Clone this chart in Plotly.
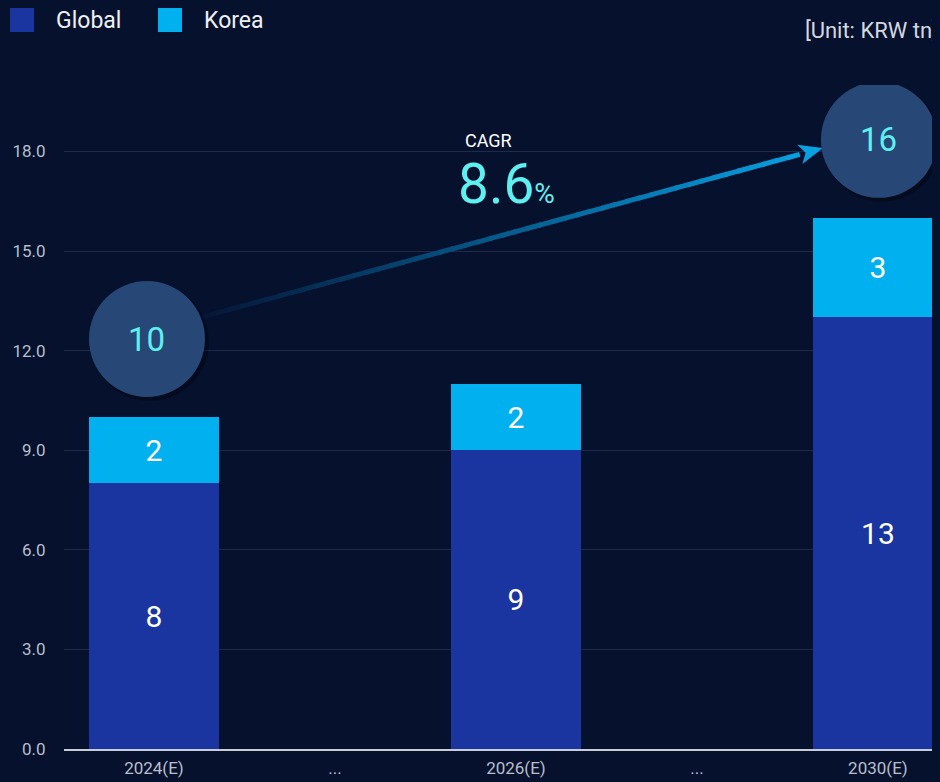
import plotly.graph_objects as go

# ---------------- data ----------------
categories = ["2024(E)", "...", "2026(E)", "...", "2030(E)"]
bar_positions = [0, 2, 4]
global_vals = [8, 9, 13]
korea_vals = [2, 2, 3]
totals = [g + k for g, k in zip(global_vals, korea_vals)]
cagr_text = "8.6"
y_ticks = [0, 3, 6, 9, 12, 15, 18]

# ---------------- style ----------------
BG = "#05112d"
C_GLOBAL = "#1a35a0"
C_KOREA = "#00b0ef"
C_CIRCLE = "#274877"
C_CYAN = "#5ef0f0"
FONT = "Roboto"

# page geometry (reference frame = browser window); body has an 8px margin
PAGE_W, PAGE_H, BODY = 940, 782, 8
W, H = PAGE_W - BODY, PAGE_H - BODY
PLOT_L, PLOT_R, PLOT_T, PLOT_B = 64, 940, 85, 749
XR = [-0.497, 4.343]
YR = [0, 20]


def x2px(x):
    return PLOT_L + (x - XR[0]) / (XR[1] - XR[0]) * (PLOT_R - PLOT_L)


def y2px(y):
    return PLOT_B - (y - YR[0]) / (YR[1] - YR[0]) * (PLOT_B - PLOT_T)


def px2x(px):
    return XR[0] + (px - PLOT_L) / (PLOT_R - PLOT_L) * (XR[1] - XR[0])


def py2y(py):
    return YR[0] + (PLOT_B - py) / (PLOT_B - PLOT_T) * (YR[1] - YR[0])


def ppx(px):
    return (px - PLOT_L) / (PLOT_R - PLOT_L)


def ppy(py):
    return (PLOT_B - py) / (PLOT_B - PLOT_T)


fig = go.Figure()
fig.add_trace(go.Bar(
    x=bar_positions, y=global_vals, name="Global", marker_color=C_GLOBAL,
    marker_line_width=0, width=0.72,
    text=[str(v) for v in global_vals], textposition="inside",
    insidetextanchor="middle", textfont=dict(color="white", size=30, family=FONT),
    constraintext="none", hoverinfo="skip"))
fig.add_trace(go.Bar(
    x=bar_positions, y=korea_vals, name="Korea", marker_color=C_KOREA,
    marker_line_width=0, width=0.72,
    text=[str(v) for v in korea_vals], textposition="inside",
    insidetextanchor="middle", textfont=dict(color="white", size=30, family=FONT),
    constraintext="none", hoverinfo="skip"))

shapes = []
annotations = []

# ---------------- CAGR arrow (gradient) ----------------
R = 58
OFF = 78
CIRCLE_DX = [-7, 1]
c1 = (x2px(bar_positions[0]) + CIRCLE_DX[0], y2px(totals[0]) - OFF)
c2 = (x2px(bar_positions[-1]) + CIRCLE_DX[1], y2px(totals[-1]) - OFF)
dx, dy = c2[0] - c1[0], c2[1] - c1[1]
L = (dx ** 2 + dy ** 2) ** 0.5
ux, uy = dx / L, dy / L
shift = -7
start = (c1[0] + R * ux, c1[1] + R * uy + shift)
tip = (c2[0] - R * ux, c2[1] - R * uy + shift)
head_len, head_w = 24, 10
base = (tip[0] - head_len * ux, tip[1] - head_len * uy)

N = 48
c_from = (6, 22, 55)
c_to = (8, 160, 225)
for i in range(N):
    t0, t1 = i / N, (i + 1) / N
    p0 = (start[0] + (base[0] - start[0]) * t0, start[1] + (base[1] - start[1]) * t0)
    te = min(t1 + 0.004, 1.0) if i < N - 1 else 1.0
    p1 = (start[0] + (base[0] - start[0]) * te, start[1] + (base[1] - start[1]) * te)
    tm = (t0 + t1) / 2
    col = tuple(int(a + (b - a) * tm) for a, b in zip(c_from, c_to))
    shapes.append(dict(type="line", xref="x", yref="y",
                       x0=px2x(p0[0]), y0=py2y(p0[1]), x1=px2x(p1[0]), y1=py2y(p1[1]),
                       line=dict(color="rgb(%d,%d,%d)" % col, width=5), layer="above"))
nx, ny = -uy, ux
notch = (base[0] + 6 * ux, base[1] + 6 * uy)
pts = [tip, (base[0] + head_w * nx, base[1] + head_w * ny), notch,
       (base[0] - head_w * nx, base[1] - head_w * ny)]
path = "M " + " L ".join("%f,%f" % (px2x(p[0]), py2y(p[1])) for p in pts) + " Z"
shapes.append(dict(type="path", xref="x", yref="y", path=path,
                   fillcolor="rgb(8,160,225)", line=dict(width=0), layer="above"))

# ---------------- total circles ----------------
for j, idx in enumerate((0, len(bar_positions) - 1)):
    xpos, tot = bar_positions[idx], totals[idx]
    cdx = CIRCLE_DX[j]
    # soft shadow
    shapes.append(dict(type="circle", xref="x", yref="y", xsizemode="pixel", ysizemode="pixel",
                       xanchor=xpos, yanchor=tot, x0=cdx - R + 2, x1=cdx + R + 4,
                       y0=OFF - R - 4, y1=OFF + R - 2,
                       fillcolor="rgba(0,0,0,0.30)", line=dict(width=0), layer="above"))
    shapes.append(dict(type="circle", xref="x", yref="y", xsizemode="pixel", ysizemode="pixel",
                       xanchor=xpos, yanchor=tot, x0=cdx - R, x1=cdx + R, y0=OFF - R, y1=OFF + R,
                       fillcolor=C_CIRCLE, line=dict(width=0), layer="above"))
    annotations.append(dict(x=xpos, y=tot, xref="x", yref="y", text=str(tot), showarrow=False,
                            xshift=cdx, yshift=OFF, yanchor="middle", xanchor="center",
                            font=dict(color=C_CYAN, size=33, family=FONT)))

# ---------------- CAGR label ----------------
annotations.append(dict(x=ppx(488), y=ppy(140), xref="paper", yref="paper", text="CAGR",
                        xanchor="center", yanchor="middle",
                        showarrow=False, font=dict(color="white", size=18, family=FONT)))
annotations.append(dict(x=ppx(456), y=ppy(184), xref="paper", yref="paper", xanchor="left",
                        yanchor="middle",
                        text=cagr_text + "<span style='font-size:28px'>%</span>",
                        showarrow=False, font=dict(color=C_CYAN, size=55, family=FONT)))

# ---------------- unit ----------------
annotations.append(dict(x=ppx(940), y=ppy(30), xref="paper", yref="paper", xanchor="right",
                        yanchor="middle",
                        text="[Unit: KRW tn]", showarrow=False,
                        font=dict(color="#d4d8e0", size=22, family=FONT)))

# ---------------- legend (manual) ----------------
for (sx, tx, name, col) in [(10, 54, "Global", C_GLOBAL), (158, 202, "Korea", C_KOREA)]:
    shapes.append(dict(type="rect", xref="paper", yref="paper",
                       x0=ppx(sx), x1=ppx(sx + 24), y0=ppy(32), y1=ppy(8),
                       fillcolor=col, line=dict(width=0)))
    annotations.append(dict(x=ppx(tx), y=ppy(21), xref="paper", yref="paper", xanchor="left",
                            yanchor="middle",
                            text=name, showarrow=False,
                            font=dict(color="#eef0f4", size=23, family=FONT)))

fig.update_layout(
    width=W, height=H, barmode="stack", showlegend=False,
    paper_bgcolor=BG, plot_bgcolor=BG,
    margin=dict(l=PLOT_L - BODY, r=PAGE_W - PLOT_R, t=PLOT_T - BODY, b=PAGE_H - PLOT_B,
                autoexpand=False),
    font=dict(family=FONT, color="#b8bfcc"),
    shapes=shapes, annotations=annotations,
    xaxis=dict(range=XR, tickmode="array", tickvals=list(range(len(categories))),
               ticktext=categories, showgrid=False, zeroline=False,
               showline=True, linecolor="#c9cdd5", linewidth=2,
               tickfont=dict(size=17, color="#b8bfcc", family=FONT),
               ticks="outside", ticklen=3, tickcolor="rgba(0,0,0,0)"),
    yaxis=dict(range=YR, tickmode="array", tickvals=y_ticks,
               ticktext=["%.1f" % v for v in y_ticks],
               showgrid=True, gridcolor="#1e2a4a", gridwidth=1, zeroline=False,
               tickfont=dict(size=17, color="#b8bfcc", family=FONT),
               ticks="outside", ticklen=14, tickcolor="rgba(0,0,0,0)"),
)

fig.write_html(
    "out.html",
    post_script=("document.body.style.background='%s';"
                 "document.documentElement.style.background='%s';") % (BG, BG))
